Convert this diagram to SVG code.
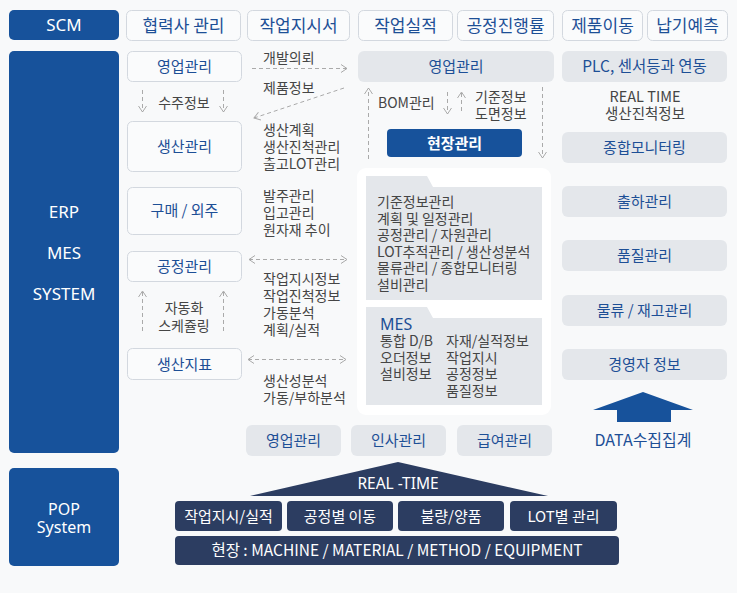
<svg xmlns="http://www.w3.org/2000/svg" width="737" height="593" viewBox="0 0 737 593">
<defs>
<style>
text{font-family:"Noto Sans CJK KR","Noto Sans",sans-serif;}
.blue{fill:#17529b;}
.navy{fill:#2c3d61;}
.wbox{fill:#fafbfc;stroke:#d3d8df;stroke-width:1;}
.gbox{fill:#e4e7eb;}
.t16{font-size:17px;fill:#1d4f96;text-anchor:middle;}
.t14{font-size:15px;fill:#1d4f96;text-anchor:middle;}
.wt{font-size:16px;fill:#fff;text-anchor:middle;}
.nt{font-size:15px;fill:#fff;text-anchor:middle;}
.lab{font-size:14px;fill:#454545;}
.labc{font-size:14px;fill:#454545;text-anchor:middle;}
.dash{stroke:#aaa;stroke-width:1;stroke-dasharray:4 3;fill:none;}
</style>
<marker id="ah" viewBox="0 0 8 10" refX="7" refY="5" markerWidth="8" markerHeight="10" markerUnits="userSpaceOnUse" orient="auto-start-reverse">
<path d="M1,1 L7,5 L1,9" fill="none" stroke="#aaa" stroke-width="1"/>
</marker>
</defs>
<rect width="737" height="593" fill="#f8f9fa"/>

<!-- Top row -->
<g id="scm"><rect x="9" y="10" width="110" height="30" rx="5" class="blue"/><text x="64" y="31" class="wt" style="font-family:'Noto Sans',sans-serif;font-size:17px">SCM</text></g>
<g id="partner"><rect x="126.5" y="10.5" width="114" height="30" rx="5" class="wbox"/><text x="183.5" y="31.5" class="t16">협력사 관리</text></g>
<g id="workorder"><rect x="247.5" y="10.5" width="102" height="30" rx="5" class="wbox"/><text x="298.5" y="31.5" class="t16">작업지시서</text></g>
<g id="workresult"><rect x="358.5" y="10.5" width="94" height="30" rx="5" class="wbox"/><text x="405.5" y="31.5" class="t16">작업실적</text></g>
<g id="progress"><rect x="457.5" y="10.5" width="96" height="30" rx="5" class="wbox"/><text x="505.5" y="31.5" class="t16">공정진행률</text></g>
<g id="move"><rect x="562.5" y="10.5" width="80" height="30" rx="5" class="wbox"/><text x="602.5" y="31.5" class="t16">제품이동</text></g>
<g id="delivery"><rect x="647.5" y="10.5" width="80" height="30" rx="5" class="wbox"/><text x="687.5" y="31.5" class="t16">납기예측</text></g>

<!-- ERP MES SYSTEM -->
<g id="erp"><rect x="9" y="51" width="110" height="402" rx="5" class="blue"/>
<text x="64" y="218" class="wt" style="font-family:'Noto Sans',sans-serif;font-size:17px">ERP</text>
<text x="64" y="259" class="wt" style="font-family:'Noto Sans',sans-serif;font-size:17px">MES</text>
<text x="64" y="300" class="wt" style="font-family:'Noto Sans',sans-serif;font-size:17px">SYSTEM</text></g>

<g id="pop"><rect x="9" y="468" width="110" height="98" rx="5" class="blue"/>
<text x="64" y="515" class="wt" style="font-family:'Noto Sans',sans-serif;font-size:16px">POP</text>
<text x="64" y="533" class="wt" style="font-family:'Noto Sans',sans-serif;font-size:16px">System</text></g>

<!-- Left column nodes -->
<g id="sales1"><rect x="127.5" y="51.5" width="114" height="30" rx="5" class="wbox"/><text x="184.5" y="72" class="t14">영업관리</text></g>
<g id="prod"><rect x="127.5" y="121.5" width="114" height="50" rx="5" class="wbox"/><text x="184.5" y="152" class="t14">생산관리</text></g>
<g id="purchase"><rect x="127.5" y="187.5" width="114" height="47" rx="5" class="wbox"/><text x="184.5" y="216" class="t14">구매 / 외주</text></g>
<g id="process"><rect x="127.5" y="251.5" width="114" height="30" rx="5" class="wbox"/><text x="184.5" y="272" class="t14">공정관리</text></g>
<g id="index"><rect x="127.5" y="348.5" width="114" height="31" rx="5" class="wbox"/><text x="184.5" y="370" class="t14">생산지표</text></g>

<!-- Middle column -->
<g id="sales2"><rect x="358" y="51" width="196" height="31" rx="6" class="gbox"/><text x="456" y="72" class="t14">영업관리</text></g>
<g id="field"><rect x="387" y="129" width="135" height="28" rx="4" class="blue"/><text x="454.5" y="148.5" class="nt" style="font-weight:bold">현장관리</text></g>

<g id="panel">
<rect x="357" y="168" width="194" height="247" rx="9" fill="#fff"/>
<path d="M366,176 H427 L433,187 H542 V300 H366 Z" class="gbox"/>
<text class="lab"><tspan x="377" y="207">기준정보관리</tspan><tspan x="377" y="223.5">계획 및 일정관리</tspan><tspan x="377" y="240">공정관리 / 자원관리</tspan><tspan x="377" y="256.5">LOT추적관리 / 생산성분석</tspan><tspan x="377" y="273">물류관리 / 종합모니터링</tspan><tspan x="377" y="289.5">설비관리</tspan></text>
<path d="M366,307 H427 L433,318 H542 V405 H366 Z" class="gbox"/>
<text x="380" y="330" style="font-family:'Noto Sans',sans-serif;font-size:16px;fill:#1d4f96">MES</text>
<text class="lab"><tspan x="380" y="346">통합 D/B</tspan><tspan x="380" y="362.5">오더정보</tspan><tspan x="380" y="379">설비정보</tspan></text>
<text class="lab"><tspan x="446" y="346">자재/실적정보</tspan><tspan x="446" y="362.5">작업지시</tspan><tspan x="446" y="379">공정정보</tspan><tspan x="446" y="395.5">품질정보</tspan></text>
</g>

<!-- Right column -->
<g id="plc"><rect x="562" y="51" width="165" height="31" rx="6" class="gbox"/><text x="644.5" y="72" class="t14" style="font-size:15.5px">PLC, 센서등과 연동</text></g>
<text class="labc" style="font-size:14.5px"><tspan x="645" y="102">REAL TIME</tspan><tspan x="645" y="119">생산진척정보</tspan></text>
<g id="monitor"><rect x="562" y="132" width="165" height="31" rx="6" class="gbox"/><text x="644.5" y="153" class="t14">종합모니터링</text></g>
<g id="ship"><rect x="562" y="186" width="165" height="31" rx="6" class="gbox"/><text x="644.5" y="207" class="t14">출하관리</text></g>
<g id="quality"><rect x="562" y="240" width="165" height="31" rx="6" class="gbox"/><text x="644.5" y="261" class="t14">품질관리</text></g>
<g id="logistics"><rect x="562" y="295" width="165" height="31" rx="6" class="gbox"/><text x="644.5" y="316" class="t14">물류 / 재고관리</text></g>
<g id="exec"><rect x="562" y="349" width="165" height="31" rx="6" class="gbox"/><text x="644.5" y="370" class="t14">경영자 정보</text></g>
<g id="data"><path d="M643,392 L693,410 H671 V422 H617 V410 H593 Z" class="blue"/><text x="643" y="446" class="t14" style="font-size:16px">DATA수집집계</text></g>

<!-- Bottom grey -->
<g id="sales3"><rect x="246" y="425" width="95" height="31" rx="6" class="gbox"/><text x="293.5" y="446" class="t14">영업관리</text></g>
<g id="hr"><rect x="351" y="425" width="95" height="31" rx="6" class="gbox"/><text x="398.5" y="446" class="t14">인사관리</text></g>
<g id="pay"><rect x="457" y="425" width="95" height="31" rx="6" class="gbox"/><text x="504.5" y="446" class="t14">급여관리</text></g>

<!-- POP -->
<g id="realtime"><path d="M250,496 L398,462 L548,496 Z" class="navy"/><text x="398" y="489" class="nt" style="font-family:'Noto Sans',sans-serif;font-size:15.5px">REAL -TIME</text></g>
<g id="pop1"><rect x="175" y="501" width="107" height="30" rx="4" class="navy"/><text x="228.5" y="521.5" class="nt">작업지시/실적</text></g>
<g id="pop2"><rect x="287" y="501" width="106" height="30" rx="4" class="navy"/><text x="340" y="521.5" class="nt">공정별 이동</text></g>
<g id="pop3"><rect x="398" y="501" width="106" height="30" rx="4" class="navy"/><text x="451" y="521.5" class="nt">불량/양품</text></g>
<g id="pop4"><rect x="510" y="501" width="107" height="30" rx="4" class="navy"/><text x="563.5" y="521.5" class="nt">LOT별 관리</text></g>
<g id="site"><rect x="175" y="536" width="444" height="29" rx="4" class="navy"/><text x="397" y="556" class="nt" style="font-size:15.5px">현장 : MACHINE / MATERIAL / METHOD / EQUIPMENT</text></g>

<!-- Labels -->
<g id="labels">
<text x="263" y="63" class="lab">개발의뢰</text>
<text x="263" y="93" class="lab">제품정보</text>
<text x="184" y="108" class="labc">수주정보</text>
<text class="lab"><tspan x="263" y="135">생산계획</tspan><tspan x="263" y="152">생산진척관리</tspan><tspan x="263" y="169">출고LOT관리</tspan></text>
<text class="lab"><tspan x="263" y="201">발주관리</tspan><tspan x="263" y="218">입고관리</tspan><tspan x="263" y="235">원자재 추이</tspan></text>
<text class="lab"><tspan x="263" y="284">작업지시정보</tspan><tspan x="263" y="301">작업진척정보</tspan><tspan x="263" y="318">가동분석</tspan><tspan x="263" y="335">계획/실적</tspan></text>
<text class="labc"><tspan x="184" y="313">자동화</tspan><tspan x="184" y="331">스케쥴링</tspan></text>
<text class="lab"><tspan x="263" y="386">생산성분석</tspan><tspan x="263" y="403">가동/부하분석</tspan></text>
<text x="378" y="108" class="lab">BOM관리</text>
<text class="lab"><tspan x="475" y="102">기준정보</tspan><tspan x="475" y="119">도면정보</tspan></text>
</g>

<!-- Connectors -->
<g id="connectors">
<line x1="252" y1="68.5" x2="347" y2="68.5" class="dash" marker-end="url(#ah)"/>
<line x1="344" y1="88" x2="254" y2="118" class="dash" marker-end="url(#ah)"/>
<line x1="142.5" y1="90" x2="142.5" y2="112" class="dash" marker-end="url(#ah)"/>
<line x1="223.5" y1="90" x2="223.5" y2="112" class="dash" marker-end="url(#ah)"/>
<line x1="142.5" y1="331" x2="142.5" y2="291" class="dash" marker-end="url(#ah)"/>
<line x1="223.5" y1="331" x2="223.5" y2="291" class="dash" marker-end="url(#ah)"/>
<line x1="249" y1="259.5" x2="347" y2="259.5" class="dash" marker-start="url(#ah)" marker-end="url(#ah)"/>
<line x1="248" y1="359.5" x2="346" y2="359.5" class="dash" marker-start="url(#ah)" marker-end="url(#ah)"/>
<line x1="368.5" y1="159" x2="368.5" y2="88" class="dash" marker-end="url(#ah)"/>
<line x1="447.5" y1="92" x2="447.5" y2="114" class="dash" marker-end="url(#ah)"/>
<line x1="461.5" y1="111" x2="461.5" y2="92" class="dash" marker-end="url(#ah)"/>
<line x1="542.5" y1="87" x2="542.5" y2="158" class="dash" marker-end="url(#ah)"/>
</g>
</svg>
